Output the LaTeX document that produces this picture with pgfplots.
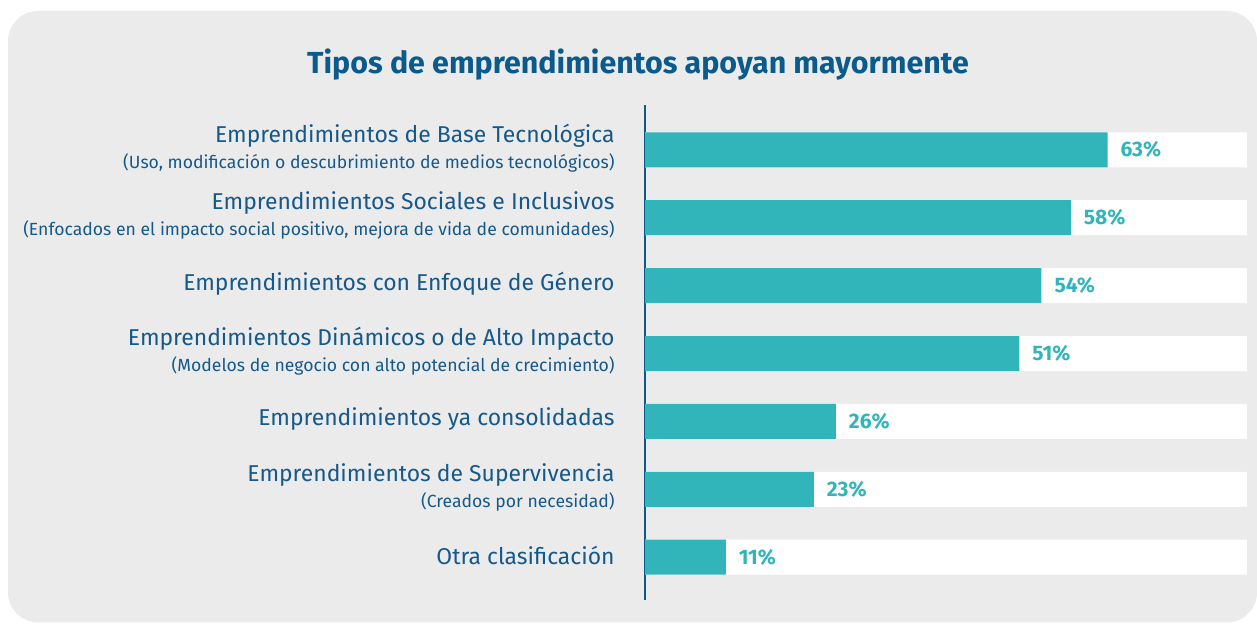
\documentclass[border=0pt]{standalone}
\usepackage{pgfplots}
\pgfplotsset{compat=1.18}
\usepackage{fontspec}
\setmainfont{Fira Sans}
\definecolor{panelgray}{HTML}{EBEBEB}
\definecolor{teal}{HTML}{31B5BB}
\definecolor{darkblue}{HTML}{0B5A8C}
\definecolor{lblue}{HTML}{15598A}
\newcommand{\sub}[1]{{\fontsize{8.8}{10.5}\selectfont #1}}
\begin{document}
\begin{tikzpicture}
\path[use as bounding box] (0,0) rectangle (628.5pt,311.5pt);
\fill[panelgray, rounded corners=15pt] (4pt,0.3pt) rectangle (628.5pt,306pt);
\node[font=\fontsize{15.2}{17}\selectfont\bfseries, text=darkblue] at (319pt,279pt) {Tipos de emprendimientos apoyan mayormente};
\begin{axis}[
  at={(322.5pt,11.5pt)}, anchor=south west,
  scale only axis, width=301pt, height=247.5pt,
  xmin=0, xmax=82, ymin=0.37, ymax=7.66,
  axis x line=none, axis y line=left,
  axis line style={-, darkblue, line width=1.3pt},
  ytick={1,2,3,4,5,6,7},
  major tick length=0pt,
  /pgf/number format/assume math mode=true,
  yticklabels={
    {Otra clasificación},
    {Emprendimientos de Supervivencia\\[-1pt]\sub{(Creados por necesidad)}},
    {Emprendimientos ya consolidadas},
    {Emprendimientos Dinámicos o de Alto Impacto\\[-1pt]\sub{(Modelos de negocio con alto potencial de crecimiento)}},
    {Emprendimientos con Enfoque de Género},
    {Emprendimientos Sociales e Inclusivos\\[-1pt]\sub{(Enfocados en el impacto social positivo, mejora de vida de comunidades)}},
    {Emprendimientos de Base Tecnológica\\[-1pt]\sub{(Uso, modificación o descubrimiento de medios tecnológicos)}}
  },
  yticklabel style={align=right, anchor=east, inner sep=0pt, yshift=1pt, text=lblue, font=\fontsize{11.45}{14}\selectfont},
  yticklabel shift=15pt,
  clip=false,
]
\addplot[xbar, bar width=17.5pt, bar shift=0pt, fill=white, draw=none] coordinates {
  (82,1) (82,2) (82,3) (82,4) (82,5) (82,6) (82,7)
};
\addplot[xbar, bar width=17.5pt, bar shift=0pt, fill=teal, draw=none,
  point meta=x,
  nodes near coords={\pgfmathprintnumber{\pgfplotspointmeta}\%},
  nodes near coords style={anchor=west, xshift=3pt, text=teal, font=\fontsize{10.5}{12}\selectfont\bfseries}
  ] coordinates {
  (11,1) (23,2) (26,3) (51,4) (54,5) (58,6) (63,7)
};
\end{axis}
\end{tikzpicture}
\end{document}
